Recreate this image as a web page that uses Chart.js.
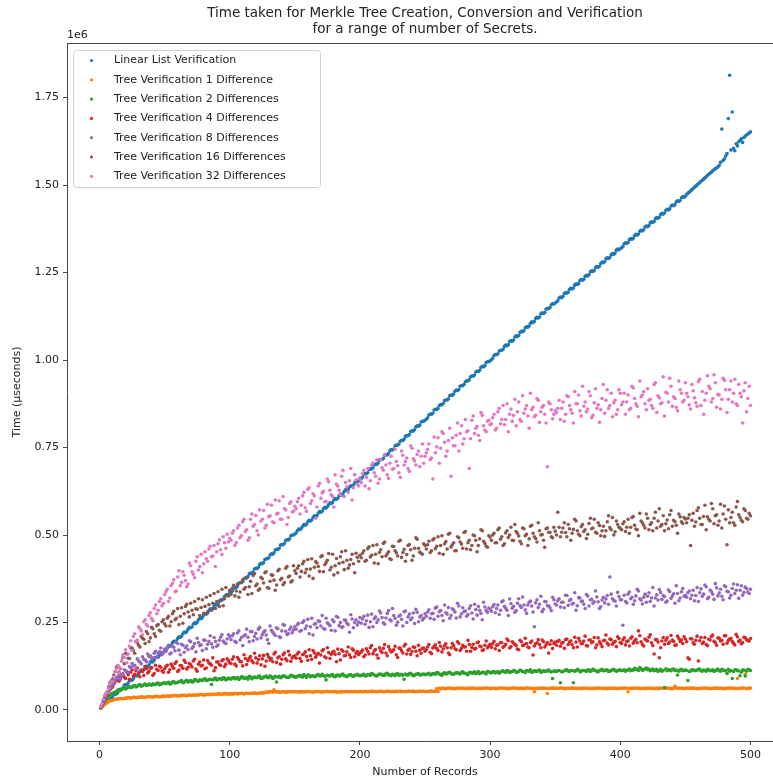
<!DOCTYPE html>
<html><head><meta charset="utf-8">
<script src="https://cdn.jsdelivr.net/npm/chart.js@4.4.1/dist/chart.umd.min.js"></script>
<style>html,body{margin:0;padding:0;background:#fff;overflow:hidden;width:773px;height:784px}canvas{display:block}</style>
</head><body><canvas id="c" width="800" height="784" style="width:800px;height:784px"></canvas>
<script>
// Number of records (x values): even and odd record counts
const recordsEven = [
2,4,6,8,10,12,14,16,18,20,22,24,26,28,30,32,34,36,38,40,42,44,46,48,50,
52,54,56,58,60,62,64,66,68,70,72,74,76,78,80,82,84,86,88,90,92,94,96,98,100,
102,104,106,108,110,112,114,116,118,120,122,124,126,128,130,132,134,136,138,140,142,144,146,148,150,
152,154,156,158,160,162,164,166,168,170,172,174,176,178,180,182,184,186,188,190,192,194,196,198,200,
202,204,206,208,210,212,214,216,218,220,222,224,226,228,230,232,234,236,238,240,242,244,246,248,250,
252,254,256,258,260,262,264,266,268,270,272,274,276,278,280,282,284,286,288,290,292,294,296,298,300,
302,304,306,308,310,312,314,316,318,320,322,324,326,328,330,332,334,336,338,340,342,344,346,348,350,
352,354,356,358,360,362,364,366,368,370,372,374,376,378,380,382,384,386,388,390,392,394,396,398,400,
402,404,406,408,410,412,414,416,418,420,422,424,426,428,430,432,434,436,438,440,442,444,446,448,450,
452,454,456,458,460,462,464,466,468,470,472,474,476,478,480,482,484,486,488,490,492,494,496,498,500];
const recordsOdd = [
1,3,5,7,9,11,13,15,17,19,21,23,25,27,29,31,33,35,37,39,41,43,45,47,49,
51,53,55,57,59,61,63,65,67,69,71,73,75,77,79,81,83,85,87,89,91,93,95,97,99,
101,103,105,107,109,111,113,115,117,119,121,123,125,127,129,131,133,135,137,139,141,143,145,147,149,
151,153,155,157,159,161,163,165,167,169,171,173,175,177,179,181,183,185,187,189,191,193,195,197,199,
201,203,205,207,209,211,213,215,217,219,221,223,225,227,229,231,233,235,237,239,241,243,245,247,249,
251,253,255,257,259,261,263,265,267,269,271,273,275,277,279,281,283,285,287,289,291,293,295,297,299,
301,303,305,307,309,311,313,315,317,319,321,323,325,327,329,331,333,335,337,339,341,343,345,347,349,
351,353,355,357,359,361,363,365,367,369,371,373,375,377,379,381,383,385,387,389,391,393,395,397,399,
401,403,405,407,409,411,413,415,417,419,421,423,425,427,429,431,433,435,437,439,441,443,445,447,449,
451,453,455,457,459,461,463,465,467,469,471,473,475,477,479,481,483,485,487,489,491,493,495,497,499];

// Times in thousands of microseconds (axis shows them in units of 1e6)
const linearListEven = [
11,19,24,32,37,46,50,59,63,72,77,85,90,98,103,112,116,125,129,138,143,151,156,164,169,
178,182,192,195,204,208,218,221,231,235,245,247,258,261,271,274,284,287,297,300,311,314,324,327,337,
340,350,354,364,367,378,381,391,394,405,408,419,421,432,435,446,449,459,462,473,476,487,489,500,503,
513,515,525,528,538,540,550,552,563,565,575,577,587,590,600,602,612,614,625,627,637,639,649,652,662,
665,676,678,689,692,703,706,716,719,730,733,744,746,757,760,771,774,784,787,798,801,812,814,825,828,
835,846,848,859,862,873,876,886,889,900,903,914,916,927,930,941,944,954,957,968,971,982,984,995,998,
1005,1016,1018,1028,1031,1043,1044,1056,1057,1069,1070,1082,1084,1095,1097,1109,1110,1122,1123,1135,1136,1148,1150,1161,1163,
1169,1180,1182,1193,1194,1205,1206,1218,1219,1230,1231,1242,1244,1255,1256,1267,1268,1280,1281,1292,1293,1304,1306,1317,1318,
1324,1335,1336,1347,1348,1359,1360,1371,1372,1383,1384,1395,1396,1407,1408,1419,1420,1431,1432,1443,1444,1455,1456,1467,1468,
1477,1483,1490,1497,1504,1511,1517,1524,1531,1537,1544,1549,1556,1660,1575,1590,1814,1709,1598,1612,1628,1622,1640,1646,1652];
const linearListOdd = [
6,17,20,31,33,44,46,58,59,71,72,84,85,97,98,110,111,124,124,137,137,150,151,163,164,
171,183,185,196,198,209,211,223,224,236,237,249,251,262,264,275,277,289,290,302,303,315,317,328,330,
336,348,350,362,364,375,377,389,391,403,404,416,418,430,432,443,445,457,459,471,472,484,486,498,500,
506,517,519,530,531,542,543,555,556,567,568,579,581,592,593,604,605,617,618,629,630,641,643,654,655,
661,673,675,687,689,700,702,714,716,728,729,741,743,755,757,768,770,782,784,796,797,809,811,823,825,
831,843,845,857,859,870,872,884,886,898,899,911,913,925,927,938,940,952,954,966,967,979,981,993,995,
1001,1013,1015,1026,1028,1039,1041,1053,1054,1066,1067,1079,1081,1092,1094,1105,1107,1119,1120,1132,1133,1145,1147,1158,1160,
1166,1177,1178,1190,1191,1202,1203,1214,1216,1227,1228,1239,1240,1252,1253,1264,1265,1276,1278,1289,1290,1301,1302,1314,1315,
1321,1332,1333,1344,1345,1356,1357,1368,1369,1380,1381,1392,1393,1404,1405,1416,1417,1428,1429,1440,1441,1452,1453,1464,1465,
1474,1480,1487,1494,1501,1507,1514,1521,1528,1534,1541,1547,1552,1565,1570,1583,1690,1600,1605,1618,1624,1632,1636,1643,1649];

const tree1DiffEven = [
9,16,21,26,28,30,31,33,32,34,35,34,36,35,36,37,36,37,38,37,38,39,38,39,39,
40,39,40,41,40,41,42,41,42,42,43,42,43,44,43,44,44,45,44,45,46,45,46,46,46,
46,47,46,47,47,48,47,48,47,48,48,49,48,51,51,52,58,52,51,52,52,51,52,53,52,
52,51,52,53,52,52,51,52,53,52,52,53,52,53,52,51,52,53,52,53,52,52,53,52,53,
52,53,52,53,53,52,53,54,52,53,53,52,53,54,53,52,53,53,54,53,52,53,54,53,53,
53,54,53,54,53,61,62,61,62,62,61,62,63,62,61,62,63,62,62,61,62,63,62,62,61,
62,61,62,63,62,62,61,62,63,62,61,62,62,63,62,61,52,62,63,62,62,47,62,63,62,
62,63,62,61,62,62,63,62,62,61,62,63,62,62,61,62,63,62,62,61,62,63,62,62,62,
62,62,52,62,63,62,62,61,62,63,62,62,61,62,63,62,62,63,62,61,68,62,63,62,62,
62,63,62,62,61,62,63,62,62,61,62,63,62,62,61,62,63,62,62,90,62,63,102,62,63];
const tree1DiffOdd = [
5,13,19,24,27,29,31,32,33,33,34,35,35,36,36,37,37,36,38,38,37,39,38,38,40,
39,40,40,41,41,40,42,42,41,43,42,43,43,44,44,43,45,44,45,45,46,45,46,47,45,
46,46,47,47,48,46,48,47,48,49,47,48,49,50,51,52,51,52,52,51,52,51,53,52,52,
52,52,53,51,52,53,52,52,53,52,51,52,53,52,52,53,52,51,52,53,52,53,52,52,52,
53,52,53,52,54,53,52,53,53,52,54,53,53,52,53,54,53,52,53,53,54,52,53,53,54,
53,53,54,53,61,62,62,61,62,63,62,61,62,62,63,62,61,62,63,62,62,61,62,63,62,
62,62,61,62,63,62,61,62,62,63,62,62,61,62,63,62,62,61,62,62,63,62,61,62,63,
62,62,63,61,62,62,63,62,61,62,63,62,62,61,62,63,62,62,61,62,63,62,62,61,62,
62,63,62,62,61,62,63,62,62,61,62,63,62,62,61,62,63,62,62,61,62,63,62,62,61,
62,62,63,62,61,62,62,63,62,61,62,63,62,62,61,62,62,63,62,61,62,62,63,61,62];

const tree2DiffEven = [
12,24,36,41,48,51,57,56,62,60,66,64,69,66,71,68,72,70,74,71,73,76,72,75,77,
78,74,80,77,79,82,78,83,80,84,81,86,82,85,88,84,87,73,89,86,90,87,91,88,90,
92,89,93,90,94,91,88,95,92,93,96,90,94,97,92,95,93,80,96,94,97,93,95,98,94,
96,99,94,97,100,95,98,96,101,97,99,86,98,100,96,99,97,101,98,95,100,97,99,102,98,
100,97,101,99,103,98,100,102,99,104,100,98,101,103,99,102,88,100,104,101,99,103,100,102,101,
103,100,104,102,106,101,105,103,107,104,102,106,104,108,105,103,107,105,109,106,104,108,106,110,107,
109,106,110,108,112,107,111,109,113,108,110,112,109,113,111,108,112,110,114,109,111,113,110,90,111,
112,78,110,114,111,113,78,112,114,111,113,110,115,112,114,111,113,116,112,114,111,115,113,112,114,
113,111,115,112,114,116,113,118,115,120,117,114,112,116,113,111,64,112,114,116,113,100,115,112,114,
84,111,115,113,116,112,114,111,115,113,110,114,112,116,113,104,111,90,115,112,98,114,97,116,113];
const tree2DiffOdd = [
6,19,31,38,45,49,53,58,59,63,62,67,65,70,68,73,70,74,71,72,75,73,77,74,78,
75,79,76,81,78,80,84,79,85,82,80,87,83,86,84,89,85,88,86,91,87,89,92,86,91,
88,93,91,87,95,90,93,96,89,94,92,97,91,95,93,98,90,96,94,92,98,95,93,99,96,
94,98,96,101,93,99,97,95,100,98,102,96,99,97,101,95,100,98,103,97,99,101,96,100,99,
99,102,98,101,104,100,97,103,101,99,105,100,102,98,104,101,99,103,100,105,98,102,104,100,103,
102,105,101,104,107,103,99,106,104,108,102,105,107,103,109,105,101,108,106,104,110,105,108,103,109,
106,110,108,105,111,109,113,107,110,112,108,114,110,107,112,115,109,111,113,108,112,110,114,109,111,
110,113,109,112,115,110,113,111,116,109,113,112,114,110,117,112,109,114,112,115,110,113,116,111,114,
112,115,113,117,114,119,116,121,113,118,115,112,117,114,110,116,113,118,115,112,117,114,111,116,113,
113,110,115,112,114,117,111,113,116,112,115,113,117,111,114,112,116,113,110,115,112,108,114,111,115];

const tree4DiffEven = [
14,31,44,60,66,80,85,92,96,90,101,108,97,112,105,114,99,118,110,121,104,116,125,112,118,
128,115,124,133,110,127,119,136,122,129,140,117,131,126,143,120,134,128,112,137,130,141,124,146,135,
145,131,150,138,126,147,141,153,135,149,144,129,156,140,151,147,160,136,152,145,163,141,157,149,155,
160,147,158,166,142,155,170,151,162,157,173,149,164,159,168,138,161,172,155,166,158,175,152,167,163,
171,157,168,178,161,173,148,169,176,163,181,166,172,158,177,169,183,160,174,167,179,155,171,176,168,
180,165,177,186,170,182,175,189,163,178,184,172,190,176,181,168,187,179,174,192,183,170,185,178,188,
189,175,186,193,179,188,198,181,191,184,172,195,186,190,178,197,183,192,187,200,180,193,188,176,194,
196,182,193,201,187,198,178,194,205,189,197,184,200,192,207,186,195,181,199,191,203,188,196,209,193,
200,186,197,205,191,202,226,195,183,199,208,192,160,201,149,197,188,206,194,200,185,211,196,190,203,
149,204,192,199,140,207,194,187,202,210,196,185,205,199,212,191,203,196,186,209,200,193,206,198,204];
const tree4DiffOdd = [
8,24,38,52,63,74,88,82,100,94,108,88,115,102,120,95,111,124,106,119,99,128,113,122,108,
124,108,131,119,138,114,126,142,117,133,123,145,111,137,128,118,141,132,149,121,138,127,144,131,141,
133,152,126,144,138,158,130,148,141,162,134,155,146,125,159,143,138,165,149,131,158,146,168,139,153,
148,165,139,160,153,172,145,163,157,134,169,152,178,147,165,159,174,143,168,156,180,150,171,162,158,
166,152,175,160,184,169,157,178,164,187,155,172,168,182,150,176,163,188,171,159,180,168,185,162,177,
172,187,161,181,176,193,166,184,178,158,190,175,195,170,185,180,199,168,188,176,194,181,172,197,183,
179,196,185,170,192,183,203,177,195,188,174,199,184,205,180,193,157,189,201,178,195,186,163,198,190,
185,199,191,176,203,194,187,208,180,197,190,211,183,200,195,178,206,189,198,214,186,201,193,181,204,
190,206,196,183,209,198,192,212,187,203,197,215,184,201,194,178,207,199,190,213,196,186,204,200,209,
195,145,203,188,211,198,190,207,184,200,214,193,206,197,188,212,199,205,191,216,196,189,208,201,197];

const tree8DiffEven = [
15,28,47,58,74,82,95,88,104,112,108,121,126,118,140,132,145,138,153,147,162,150,166,158,174,
176,160,182,169,190,158,185,178,172,195,181,166,193,186,200,175,196,189,207,182,199,215,192,203,210,
212,196,220,200,184,215,208,224,198,219,231,206,222,214,190,228,217,235,209,226,242,216,230,221,238,
244,225,250,232,259,238,214,247,255,240,233,262,245,228,252,267,241,236,257,248,222,260,250,243,264,
260,245,271,252,238,266,258,277,249,263,284,255,270,242,268,259,281,250,274,263,247,279,266,257,275,
280,262,276,291,268,284,255,278,293,270,286,263,297,275,281,268,290,277,302,271,285,258,294,279,288,
295,278,300,285,312,291,270,304,296,284,318,293,300,276,308,297,238,315,302,281,310,298,292,322,303,
312,294,308,328,299,316,305,285,321,310,302,330,297,316,309,323,290,314,306,327,380,318,311,336,315,
242,310,331,318,302,326,340,314,322,308,335,320,297,329,344,316,324,311,338,326,305,333,320,347,327,
335,318,342,327,310,346,331,352,322,338,316,349,334,325,355,339,320,347,333,358,342,328,351,337,345];
const tree8DiffOdd = [
8,22,38,55,66,78,90,101,97,115,110,124,133,128,146,137,152,143,160,155,149,168,162,177,165,
168,185,163,179,194,171,188,165,183,198,176,190,205,184,170,199,188,212,179,196,186,208,197,190,215,
201,218,193,226,207,212,231,195,224,210,203,236,215,226,201,240,222,213,232,207,244,225,218,237,229,
231,248,227,255,240,218,262,245,235,253,270,231,249,241,258,226,265,250,238,256,244,272,235,258,251,
248,268,255,236,274,261,250,283,264,245,276,258,290,262,251,271,240,283,266,258,277,288,252,270,262,
268,286,275,259,294,281,270,300,274,262,289,280,305,266,292,283,273,298,260,287,296,276,308,284,291,
282,301,290,273,309,296,285,317,291,279,305,298,323,286,300,311,280,306,293,325,288,309,298,284,315,
300,318,308,292,327,313,303,335,298,320,311,290,326,315,305,340,309,295,322,317,302,331,313,297,324,
315,328,306,337,322,312,345,318,303,331,325,310,350,320,314,336,327,308,343,319,332,355,312,338,325,
322,340,328,312,350,335,325,357,318,343,331,361,326,345,315,352,338,328,360,342,319,355,336,347,333];

const tree16DiffEven = [
14,36,52,78,88,110,126,118,150,162,148,178,170,196,185,210,202,224,195,236,218,241,228,252,246,
262,240,275,258,290,268,248,296,280,305,272,289,318,293,276,322,301,285,333,310,296,345,318,330,342,
348,326,360,337,372,350,330,368,384,355,342,379,363,395,348,386,371,357,402,376,364,410,383,369,398,
405,380,418,392,430,403,376,424,410,438,395,421,447,408,386,433,419,452,401,428,414,445,392,436,442,
448,425,461,437,470,445,418,458,476,440,452,430,467,449,482,436,459,444,473,428,462,488,451,445,470,
472,450,486,461,495,470,445,481,502,466,478,455,492,474,507,460,485,470,498,452,489,512,476,465,494,
500,478,515,488,470,506,493,522,484,510,497,475,518,502,489,528,495,480,512,501,465,520,507,492,511,
565,495,520,507,530,485,516,540,502,524,510,490,533,518,545,505,527,512,496,538,521,550,509,530,519,
532,510,545,522,553,517,498,540,528,560,515,535,548,520,575,530,512,543,558,525,538,505,552,533,546,
548,470,562,537,578,530,553,515,545,590,532,558,540,520,583,472,535,565,528,596,550,538,570,545,555];
const tree16DiffOdd = [
8,28,44,66,82,100,122,108,140,132,160,147,176,162,192,180,205,190,218,206,232,210,244,225,258,
240,268,252,282,262,244,292,275,302,266,285,310,288,270,315,296,280,327,305,290,338,312,298,350,326,
330,356,340,322,365,345,378,352,333,390,360,346,375,392,350,368,385,342,398,372,358,405,380,366,412,
390,412,396,425,402,383,432,408,420,396,441,415,428,400,445,412,392,438,422,455,405,430,418,448,425,
435,455,428,466,442,420,472,450,438,480,446,432,468,455,440,485,450,425,470,458,440,492,462,448,475,
460,482,455,490,468,448,498,475,460,505,472,455,495,480,462,510,478,458,500,485,470,515,482,468,498,
485,505,478,520,495,475,512,500,485,530,505,482,520,498,470,525,505,490,535,500,485,518,508,495,522,
500,522,508,535,495,518,505,545,512,498,530,515,502,548,520,508,535,498,525,512,555,515,500,540,522,
515,538,522,505,550,528,515,562,535,520,548,530,512,565,540,525,555,532,518,570,542,528,560,538,550,
535,558,542,525,570,548,530,585,552,540,575,555,528,588,560,545,572,550,535,580,558,542,575,548,562];

const tree32DiffEven = [
18,42,52,75,82,110,128,120,158,172,160,198,210,195,238,226,252,244,270,262,290,275,310,298,330,
345,320,362,338,380,355,395,370,360,412,388,425,400,445,418,432,460,438,470,452,486,444,478,502,490,
505,470,520,492,538,510,485,545,525,556,500,540,570,528,552,585,535,560,598,545,575,530,590,566,582,
595,560,612,578,630,590,618,548,640,605,625,596,652,615,580,645,628,668,610,638,655,600,672,645,660,
675,640,690,655,705,668,648,715,685,700,662,725,690,710,678,740,700,720,682,748,712,730,695,760,725,
745,715,660,735,778,748,790,725,770,668,755,785,740,812,775,795,690,828,790,810,770,842,800,825,815,
835,800,852,818,870,830,795,860,842,812,880,825,848,870,805,858,838,890,822,865,845,695,875,832,855,
862,830,880,845,895,858,820,875,900,840,868,852,910,835,878,862,822,890,848,915,870,838,885,858,905,
880,845,900,862,920,875,838,895,910,858,885,870,930,850,892,878,840,905,948,868,890,855,915,880,935,
895,860,912,878,938,870,845,905,925,880,958,865,900,888,942,850,915,880,945,870,905,820,935,890,870];
const tree32DiffOdd = [
10,30,48,62,80,95,118,105,140,150,135,182,170,218,200,232,215,258,240,278,255,300,285,318,305,
338,310,355,372,340,398,365,385,352,420,395,378,438,410,392,452,425,468,440,410,475,458,495,462,480,
485,512,478,528,498,545,515,492,560,530,512,572,545,520,588,555,538,600,562,545,610,572,550,595,568,
575,605,585,622,568,635,598,612,580,648,620,595,660,628,610,672,640,615,685,650,622,690,635,658,640,
650,685,665,632,700,678,715,660,692,730,672,705,688,745,698,665,728,710,690,755,718,700,740,725,705,
735,760,720,780,752,705,795,765,740,805,778,755,820,790,760,830,798,775,840,805,785,850,812,795,828,
818,845,805,862,830,815,875,845,825,888,852,830,898,860,840,905,865,842,885,852,870,820,880,858,845,
850,885,862,825,898,870,848,910,875,855,925,880,860,898,842,918,872,858,930,885,862,905,878,845,915,
872,905,880,858,925,890,868,940,900,875,918,888,862,935,898,875,952,908,880,925,895,865,940,905,885,
905,872,930,892,868,945,910,885,955,918,890,935,902,860,948,915,888,940,905,875,930,895,912,852,925];

const seriesNames = [
  'Linear List Verification',
  'Tree Verification 1 Difference',
  'Tree Verification 2 Differences',
  'Tree Verification 4 Differences',
  'Tree Verification 8 Differences',
  'Tree Verification 16 Differences',
  'Tree Verification 32 Differences'
];
const seriesColors = ['#1f77b4','#ff7f0e','#2ca02c','#d62728','#9467bd','#8c564b','#e377c2'];
const xTickValues = [0, 100, 200, 300, 400, 500];
const yTickValues = [0, 250, 500, 750, 1000, 1250, 1500, 1750];
const titleLines = ['Time taken for Merkle Tree Creation, Conversion and Verification', 'for a range of number of Secrets.'];
const xLabel = 'Number of Records';
const yLabel = 'Time (\u00b5seconds)';
const yOffsetLabel = '1e6';

const FONT = "'DejaVu Sans', sans-serif";
const TXT = '#222';
const evenSeries = [linearListEven, tree1DiffEven, tree2DiffEven, tree4DiffEven, tree8DiffEven, tree16DiffEven, tree32DiffEven];
const oddSeries = [linearListOdd, tree1DiffOdd, tree2DiffOdd, tree4DiffOdd, tree8DiffOdd, tree16DiffOdd, tree32DiffOdd];

const datasets = evenSeries.map((vals, i) => ({
  label: seriesNames[i],
  data: oddSeries[i].map((v, j) => ({x: recordsOdd[j], y: v}))
        .concat(vals.map((v, j) => ({x: recordsEven[j], y: v}))),
  backgroundColor: seriesColors[i],
  borderColor: seriesColors[i],
  pointRadius: 1.8,
  pointBorderWidth: 0,
  pointHoverRadius: 1.8,
  showLine: false,
  order: 6 - i
}));

const decor = {
  id: 'decor',
  afterDraw(chart) {
    const ctx = chart.ctx;
    const a = chart.chartArea;
    ctx.save();
    ctx.strokeStyle = '#444';
    ctx.lineWidth = 1;
    ctx.beginPath();
    ctx.moveTo(a.left, Math.round(a.top) + 0.5);
    ctx.lineTo(a.right, Math.round(a.top) + 0.5);
    ctx.moveTo(Math.round(a.right) - 0.5, a.top);
    ctx.lineTo(Math.round(a.right) - 0.5, a.bottom);
    ctx.stroke();
    const cx = (a.left + a.right) / 2;
    ctx.fillStyle = TXT;
    ctx.font = '13.5px ' + FONT;
    ctx.textAlign = 'center';
    ctx.textBaseline = 'alphabetic';
    ctx.fillText(titleLines[0], cx, 17);
    ctx.fillText(titleLines[1], cx, 33);
    ctx.font = '11px ' + FONT;
    ctx.textAlign = 'left';
    ctx.fillText(yOffsetLabel, a.left, 38);
    ctx.textAlign = 'center';
    ctx.textBaseline = 'middle';
    ctx.fillText(xLabel, cx, 772);
    ctx.save();
    ctx.translate(17, (a.top + a.bottom) / 2);
    ctx.rotate(-Math.PI / 2);
    ctx.fillText(yLabel, 0, 0);
    ctx.restore();
    const lx = 73.5, ly = 50.5, lw = 247, lh = 137;
    ctx.fillStyle = 'rgba(255,255,255,0.8)';
    ctx.strokeStyle = '#d0d0d0';
    ctx.lineWidth = 1;
    ctx.beginPath();
    ctx.roundRect(lx, ly, lw, lh, 3);
    ctx.fill();
    ctx.stroke();
    ctx.textAlign = 'left';
    ctx.textBaseline = 'middle';
    ctx.font = '11px ' + FONT;
    for (let i = 0; i < seriesNames.length; i++) {
      const yy = 60.5 + i * 19.3;
      ctx.fillStyle = seriesColors[i];
      ctx.beginPath();
      ctx.arc(91.5, yy, 1.6, 0, Math.PI * 2);
      ctx.fill();
      ctx.fillStyle = TXT;
      ctx.fillText(seriesNames[i], 114, yy);
    }
    ctx.restore();
  }
};

const tickFont = {family: FONT, size: 11};
new Chart(document.getElementById('c'), {
  type: 'scatter',
  data: {datasets},
  options: {
    responsive: false,
    animation: false,
    devicePixelRatio: 1,
    layout: {padding: {top: 43, right: 17, left: 0, bottom: 0}},
    plugins: {legend: {display: false}, tooltip: {enabled: false}, title: {display: false}},
    events: [],
    scales: {
      x: {
        type: 'linear', min: -25, max: 525,
        afterBuildTicks(s) { s.ticks = xTickValues.map(v => ({value: v})); },
        ticks: {color: TXT, font: tickFont, padding: 4, maxRotation: 0, autoSkip: false},
        grid: {drawOnChartArea: false, drawTicks: true, tickLength: 4, color: '#444', lineWidth: 1},
        border: {display: true, color: '#444', width: 1},
        afterFit(s) { s.height = 43; }
      },
      y: {
        type: 'linear', min: -88.6, max: 1906,
        afterBuildTicks(s) { s.ticks = yTickValues.map(v => ({value: v})); },
        ticks: {color: TXT, font: tickFont, padding: 4, autoSkip: false,
          callback: v => (v / 1000).toFixed(2)},
        grid: {drawOnChartArea: false, drawTicks: true, tickLength: 4, color: '#444', lineWidth: 1},
        border: {display: true, color: '#444', width: 1},
        afterFit(s) { s.width = 67; }
      }
    }
  },
  plugins: [decor]
});
</script>
</body></html>
